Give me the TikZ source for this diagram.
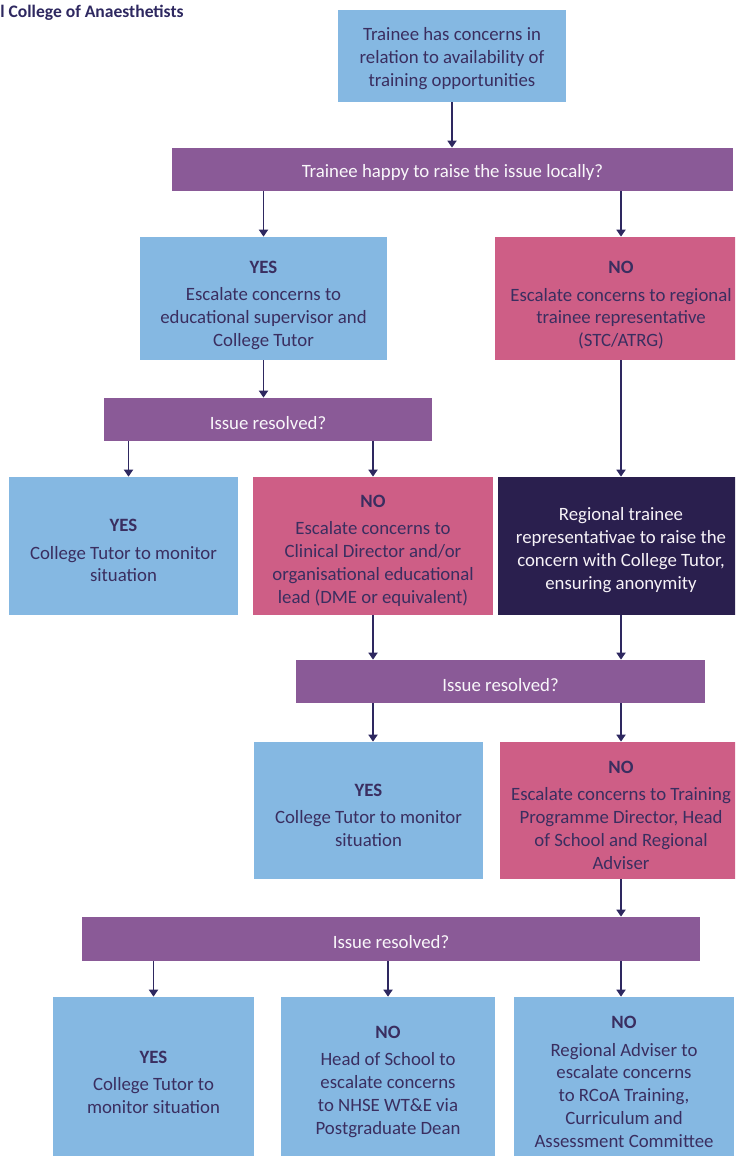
\documentclass[tikz,border=0pt]{standalone}
\usepackage{fontspec}
\setmainfont{Carlito}
\usepackage{tikz}
\usetikzlibrary{arrows.meta}
\usetikzlibrary{positioning}
\definecolor{paleblue}{HTML}{85B8E2}
\definecolor{rose}{HTML}{CE5E86}
\definecolor{plum}{HTML}{8A5A97}
\definecolor{midnight}{HTML}{2A1F4E}
\definecolor{inkline}{HTML}{2E2860}
\definecolor{inktext}{HTML}{3A2E60}
\tikzset{arr/.style = {draw = inkline, line width = 1.1pt,
                       -{Triangle[length = 1.4mm, width = 1.8mm]}}}
\tikzset{cell/.style = {inner sep = 0, align = center, text = inktext,
                        font = \fontsize{10.7}{13}\selectfont}}
\tikzset{yesbox/.style = {cell, fill = paleblue}}
\tikzset{nobox/.style = {cell, fill = rose}}
\tikzset{repbox/.style = {cell, fill = midnight, text = white!92!plum}}
\tikzset{askbar/.style = {cell, fill = plum, text = white!95!plum, minimum height = 0.86cm,
                          execute at begin node = {\rule{0pt}{11pt}}}}
% header lines; the strut pushes the text a little below the middle
\newcommand{\lift}[1]{\rule{0pt}{#1}}
\newcommand{\yes}{\lift{12.5pt}\textbf{YES}\\[2.5pt]}
\newcommand{\nope}{\lift{12.5pt}\textbf{NO}\\[2.5pt]}

\begin{document}
\begin{tikzpicture}[x = 0.02cm, y = -0.02cm]
        \useasboundingbox (0, 0) rectangle (735, 1156);
        \clip (0, 0) rectangle (735, 1156);
        \node [anchor = west, inner sep = 0, text = inkline,
               font = \bfseries\fontsize{10}{12}\selectfont] (title) at (0, 13) {l College of Anaesthetists};
        % top
        \node [yesbox, minimum width = 4.56cm, minimum height = 1.84cm] (start) at (452, 56)
              {\lift{10pt}Trainee has concerns in\\relation to availability of\\training opportunities};
        \node [askbar, minimum width = 11.22cm] (ask1) at (452.5, 169.5) {Trainee happy to raise the issue locally?};
        \node [yesbox, minimum width = 4.94cm, minimum height = 2.46cm] (yes1) at (263.5, 298.5)
              {\lift{15pt}\textbf{YES}\\[2.5pt]Escalate concerns to\\educational supervisor and\\College Tutor};
        \node [nobox, minimum width = 5.04cm, minimum height = 2.46cm] (no1) at (621, 298.5)
              {\lift{15pt}\textbf{NO}\\[2.5pt]Escalate concerns to regional\\trainee representative\\(STC/ATRG)};
        % second round
        \node [askbar, minimum width = 6.56cm] (ask2) at (268, 419.5) {Issue resolved?};
        \node [yesbox, minimum width = 4.58cm, minimum height = 2.76cm] (yes2) at (123.5, 546)
              {\yes College Tutor to monitor\\situation};
        \node [nobox, minimum width = 4.8cm, minimum height = 2.76cm] (no2) at (373, 546)
              {\nope Escalate concerns to\\Clinical Director and/or\\organisational educational\\lead (DME or equivalent)};
        \node [repbox, minimum width = 4.92cm, minimum height = 2.76cm] (rep) at (621, 546)
              {\lift{12pt}Regional trainee\\representativae to raise the\\concern with College Tutor,\\ensuring anonymity};
        % third round
        \node [askbar, minimum width = 8.18cm] (ask3) at (500.5, 681.5) {Issue resolved?};
        \node [yesbox, minimum width = 4.58cm, minimum height = 2.74cm] (yes3) at (368.5, 810.5)
              {\yes College Tutor to monitor\\situation};
        \node [nobox, minimum width = 4.84cm, minimum height = 2.74cm] (no3) at (621, 810.5)
              {\nope Escalate concerns to Training\\Programme Director, Head\\of School and Regional\\Adviser};
        % last round
        \node [askbar, minimum width = 12.36cm, minimum height = 0.88cm] (ask4) at (391, 939) {Issue resolved?};
        \node [yesbox, minimum width = 4.02cm, minimum height = 3.4cm] (yes4) at (153.5, 1082)
              {\textbf{YES}\\[2.5pt]College Tutor to\\monitor situation};
        \node [yesbox, minimum width = 4.28cm, minimum height = 3.4cm] (no4a) at (388, 1082)
              {\textbf{NO}\\[2.5pt]Head of School to\\escalate concerns\\to NHSE WT\&E via\\Postgraduate Dean};
        \node [yesbox, minimum width = 4.4cm, minimum height = 3.4cm] (no4b) at (624, 1082)
              {\textbf{NO}\\[2.5pt]Regional Adviser to\\escalate concerns\\to RCoA Training,\\Curriculum and\\Assessment Committee};
        \coordinate (yes2in) at ([xshift = 0.1cm] yes2.north);
        \coordinate (no4in) at ([xshift = -0.06cm] no4b.north);
        % arrows
        \draw [arr] (start.south) -- (start.south |- ask1.north);
        \draw [arr] (yes1.north |- ask1.south) -- (yes1.north);
        \draw [arr] (no1.north |- ask1.south) -- (no1.north);
        \draw [arr] (yes1.south) -- (yes1.south |- ask2.north);
        \draw [arr] (yes2in |- ask2.south) -- (yes2in);
        \draw [arr] (no2.north |- ask2.south) -- (no2.north);
        \draw [arr] (no1.south) -- (rep.north);
        \draw [arr] (no2.south) -- (no2.south |- ask3.north);
        \draw [arr] (rep.south) -- (rep.south |- ask3.north);
        \draw [arr] (no2.south |- ask3.south) -- (no2.south |- yes3.north);
        \draw [arr] (no3.north |- ask3.south) -- (no3.north);
        \draw [arr] (no3.south) -- (no3.south |- ask4.north);
        \draw [arr] (yes4.north |- ask4.south) -- (yes4.north);
        \draw [arr] (no4a.north |- ask4.south) -- (no4a.north);
        \draw [arr] (no4in |- ask4.south) -- (no4in);
      \end{tikzpicture}
\end{document}
